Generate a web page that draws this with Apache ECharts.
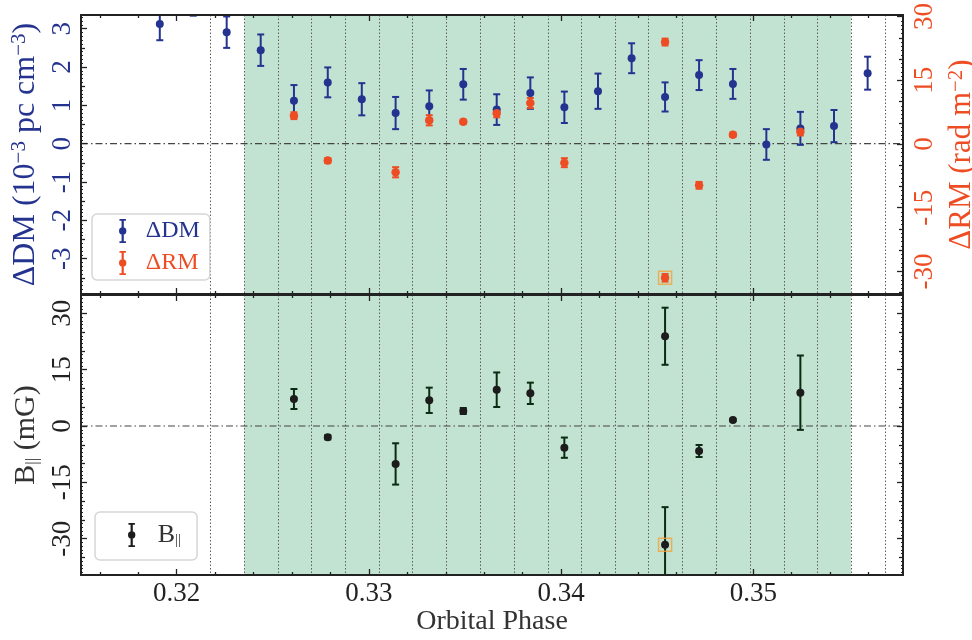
<!DOCTYPE html>
<html>
<head>
<meta charset="utf-8">
<script src="https://cdn.jsdelivr.net/npm/echarts@6/dist/echarts.min.js"></script>
<style>
html, body { margin: 0; padding: 0; background: #fff; }
#chart { width: 972px; height: 640px; }
</style>
</head>
<body>
<div id="chart"></div>
<script>
// orbital phase of each DM epoch
const dmPhase = [0.31912, 0.32086, 0.32260, 0.32437, 0.32610, 0.32786, 0.32963, 0.33139, 0.33314, 0.33491, 0.33665,
                 0.33840, 0.34017, 0.34192, 0.34367, 0.34541, 0.34718, 0.34894, 0.35068, 0.35245, 0.35420, 0.35595];
const dmVal = [3.12, 3.77, 2.91, 2.44, 1.12, 1.60, 1.16, 0.80, 0.98, 1.55, 0.89,
               1.32, 0.95, 1.37, 2.23, 1.22, 1.79, 1.56, -0.02, 0.40, 0.46, 1.84];
const dmErr = [0.42, 0.43, 0.41, 0.41, 0.41, 0.39, 0.42, 0.42, 0.41, 0.40, 0.40,
               0.41, 0.41, 0.46, 0.39, 0.38, 0.39, 0.39, 0.40, 0.43, 0.42, 0.43];

// RM and B_par share the same epochs
const rmPhase = [0.32610, 0.32786, 0.33139, 0.33314, 0.33491, 0.33665, 0.33840, 0.34017, 0.34541, 0.34541, 0.34718, 0.34894, 0.35245];
const rmVal = [6.66, -3.9, -6.66, 5.58, 5.25, 7.23, 9.65, -4.4, 24.0, -31.5, -9.73, 2.19, 2.9];
const rmErr = [0.8, 0.6, 1.2, 1.2, 0.5, 0.95, 1.18, 1.06, 0.8, 0.9, 0.8, 0.5, 0.9];
const bVal = [7.19, -3.0, -10.1, 6.84, 4.0, 9.66, 8.7, -5.77, 23.9, -31.6, -6.66, 1.6, 8.87];
const bErr = [2.66, 0.55, 5.5, 3.37, 0.8, 4.6, 2.84, 2.7, 7.6, 10.0, 1.6, 0.3, 9.9];

// flagged (boxed) solution
const flagPhase = [0.34541];
const flagRM = [-31.5];
const flagB = [-31.6];

// observation window edges and the shaded span
const windowEdges = [0.32173, 0.32352, 0.32526, 0.32700, 0.32876, 0.33051, 0.33226, 0.33401, 0.33578, 0.33753, 0.33930,
                     0.34104, 0.34280, 0.34454, 0.34631, 0.34806, 0.34983, 0.35160, 0.35333, 0.35508, 0.35685];
const shadeSpan = [0.32352, 0.35508];

// ticks
const xMajor = [0.32, 0.33, 0.34, 0.35];
const xMinor = [0.316, 0.318, 0.322, 0.324, 0.326, 0.328, 0.332, 0.334, 0.336, 0.338, 0.342, 0.344, 0.346, 0.348, 0.352, 0.354, 0.356];
const dmMajor = [-3, -2, -1, 0, 1, 2, 3];
const dmMinor = [-3.5, -2.5, -1.5, -0.5, 0.5, 1.5, 2.5];
const rmMajor = [-30, -15, 0, 15, 30];
const rmMinor = [-35, -25, -20, -10, -5, 5, 10, 20, 25];
const bMajor = [-30, -15, 0, 15, 30];
const bMinor = [-35, -25, -20, -10, -5, 5, 10, 20, 25];

// fine tick comb along the y axes
function comb(lo, hi, step) {
    const out = [];
    for (let k = Math.ceil(lo / step); k * step <= hi; k++) out.push(+(k * step).toFixed(4));
    return out;
}
const dmFine = comb(-3.9, 3.35, 0.1);
const rmFine = comb(-35, 30, 1);
const bFine = comb(-39, 34, 1);

const FONT = 'Liberation Serif';
const INK = '#222';
const DM_COLOR = '#24338f';
const RM_COLOR = '#ee4d24';
const B_COLOR = '#1c1c1c';
const B_BAR = '#0b2b12';
const ERR_ICON = 'path://M1.5,0H8.5V2H6.2V24H8.5V26H1.5V24H3.8V2H1.5ZM9,13A4,4,0,1,1,1,13A4,4,0,1,1,9,13Z';

const chart = echarts.init(document.getElementById('chart'));

function ticks(values, len, width) {
    return { show: true, inside: true, length: len, customValues: values, lineStyle: { color: INK, width: width || 1.3 } };
}
function frame(show) {
    return { show: show, onZero: false, lineStyle: { color: INK, width: 2 } };
}
function axis(o) {
    return Object.assign({
        type: 'value', z: 10,
        axisLine: frame(false),
        axisLabel: { show: false },
        splitLine: { show: false },
        minorSplitLine: { show: false }
    }, o);
}
function label(values, color, extra) {
    return Object.assign({ show: true, customValues: values, color: color, fontFamily: FONT, fontSize: 27 }, extra);
}

const xRange = { min: 0.31502, max: 0.35779 };
const xAxes = [];
[0, 1].forEach(g => {
    xAxes.push(axis(Object.assign({
        gridIndex: g, position: 'bottom', axisLine: frame(true), axisTick: ticks(xMajor, 6),
        axisLabel: g === 1 ? label(xMajor, INK, { margin: 5, formatter: v => v.toFixed(2) }) : { show: false },
        name: g === 1 ? 'Orbital Phase' : '', nameLocation: 'middle', nameGap: 33,
        nameTextStyle: { fontFamily: FONT, fontSize: 28, color: '#333' }
    }, xRange)));
    xAxes.push(axis(Object.assign({ gridIndex: g, position: 'bottom', axisTick: ticks(xMinor, 3) }, xRange)));
    xAxes.push(axis(Object.assign({ gridIndex: g, position: 'top', axisLine: frame(true), axisTick: ticks(xMajor, 6) }, xRange)));
    xAxes.push(axis(Object.assign({ gridIndex: g, position: 'top', axisTick: ticks(xMinor, 3) }, xRange)));
});

const dmRange = { min: -3.921, max: 3.358 };
const rmRange = { min: -35.32, max: 30.37 };
const bRange = { min: -39.67, max: 34.88 };

const yAxes = [
    axis(Object.assign({
        gridIndex: 0, position: 'left', axisLine: frame(true), axisTick: ticks(dmMajor, 6),
        axisLabel: label(dmMajor, DM_COLOR, { rotate: 90, margin: 5 }),
        name: '{a|ΔDM (10}{s|−3}{a| pc cm}{s|−3}{a|)}', nameLocation: 'middle', nameGap: 27, nameRotate: 90,
        nameTextStyle: { rich: {
            a: { fontFamily: FONT, fontSize: 32, color: DM_COLOR },
            s: { fontFamily: FONT, fontSize: 21, color: DM_COLOR, verticalAlign: 'top' } } }
    }, dmRange)),
    axis(Object.assign({ gridIndex: 0, position: 'left', axisTick: ticks(dmMinor, 4) }, dmRange)),
    axis(Object.assign({
        gridIndex: 0, position: 'right', axisLine: frame(true), axisTick: ticks(rmMajor, 6),
        axisLabel: label(rmMajor, RM_COLOR, { rotate: 90, margin: 8 }),
        name: '{a|ΔRM (rad m}{s|−2}{a|)}', nameLocation: 'middle', nameGap: 34, nameRotate: 90,
        nameTextStyle: { rich: {
            a: { fontFamily: FONT, fontSize: 31, color: RM_COLOR },
            s: { fontFamily: FONT, fontSize: 21, color: RM_COLOR, verticalAlign: 'top' } } }
    }, rmRange)),
    axis(Object.assign({ gridIndex: 0, position: 'right', axisTick: ticks(rmMinor, 4) }, rmRange)),
    axis(Object.assign({
        gridIndex: 1, position: 'left', axisLine: frame(true), axisTick: ticks(bMajor, 6),
        axisLabel: label(bMajor, INK, { rotate: 90, margin: 5 }),
        name: '{a|B}{s|||}{a| (mG)}', nameLocation: 'middle', nameGap: 29, nameRotate: 90,
        nameTextStyle: { rich: {
            a: { fontFamily: FONT, fontSize: 30, color: '#333' },
            s: { fontFamily: FONT, fontSize: 17, color: '#333', verticalAlign: 'bottom' } } }
    }, bRange)),
    axis(Object.assign({ gridIndex: 1, position: 'left', axisTick: ticks(bMinor, 4) }, bRange)),
    axis(Object.assign({ gridIndex: 1, position: 'right', axisLine: frame(true), axisTick: ticks(bMajor, 6) }, bRange)),
    axis(Object.assign({ gridIndex: 1, position: 'right', axisTick: ticks(bMinor, 4) }, bRange)),
    // fine combs
    axis(Object.assign({ gridIndex: 0, position: 'left', axisTick: ticks(dmFine, 2, 1) }, dmRange)),
    axis(Object.assign({ gridIndex: 0, position: 'right', axisTick: ticks(rmFine, 2, 1) }, rmRange)),
    axis(Object.assign({ gridIndex: 1, position: 'left', axisTick: ticks(bFine, 2, 1) }, bRange)),
    axis(Object.assign({ gridIndex: 1, position: 'right', axisTick: ticks(bFine, 2, 1) }, bRange))
];

function errorBars(color) {
    return function (params, api) {
        const x = api.value(0), y = api.value(1), e = api.value(2);
        const hi = api.coord([x, y + e]);
        const lo = api.coord([x, y - e]);
        const hw = 3.5;
        const style = { stroke: color, lineWidth: 2 };
        return {
            type: 'group',
            children: [
                { type: 'line', shape: { x1: hi[0], y1: hi[1], x2: lo[0], y2: lo[1] }, style: style },
                { type: 'line', shape: { x1: hi[0] - hw, y1: hi[1], x2: hi[0] + hw, y2: hi[1] }, style: style },
                { type: 'line', shape: { x1: lo[0] - hw, y1: lo[1], x2: lo[0] + hw, y2: lo[1] }, style: style }
            ]
        };
    };
}

// shaded span, window edges and zero line for one panel
function backdrop(xi, yi) {
    return [
        {
            type: 'custom', xAxisIndex: xi, yAxisIndex: yi, z: 1, silent: true, clip: true,
            data: [shadeSpan], encode: { x: [0, 1] },
            renderItem: (params, api) => {
                const cs = params.coordSys;
                const a = api.coord([api.value(0), 0])[0];
                const b = api.coord([api.value(1), 0])[0];
                return { type: 'rect', shape: { x: a, y: cs.y, width: b - a, height: cs.height }, style: { fill: '#c2e3d2' } };
            }
        },
        {
            type: 'custom', xAxisIndex: xi, yAxisIndex: yi, z: 2, silent: true, clip: true,
            data: windowEdges.map(v => [v]), encode: { x: 0 },
            renderItem: (params, api) => {
                const cs = params.coordSys;
                const x = Math.round(api.coord([api.value(0), 0])[0]) + 0.5;
                return { type: 'line', shape: { x1: x, y1: cs.y, x2: x, y2: cs.y + cs.height },
                         style: { stroke: '#5e5e5e', lineWidth: 1, lineDash: [1.5, 2] } };
            }
        },
        {
            type: 'custom', xAxisIndex: xi, yAxisIndex: yi, z: 2, silent: true, clip: true,
            data: [[0]], encode: { y: 0 },
            renderItem: (params, api) => {
                const cs = params.coordSys;
                const y = api.coord([xRange.min, api.value(0)])[1];
                return { type: 'line', shape: { x1: cs.x, y1: y, x2: cs.x + cs.width, y2: y },
                         style: { stroke: '#444', lineWidth: 1.2, lineDash: [7, 3, 1.5, 3] } };
            }
        }
    ];
}

const dmData = dmPhase.map((p, i) => [p, dmVal[i], dmErr[i]]);
const rmData = rmPhase.map((p, i) => [p, rmVal[i], rmErr[i]]);
const bData = rmPhase.map((p, i) => [p, bVal[i], bErr[i]]);

const legendBox = {
    orient: 'vertical', icon: ERR_ICON, itemWidth: 10, itemHeight: 24,
    backgroundColor: '#fff', borderColor: '#d6d6d6', borderWidth: 1.5, borderRadius: 5, selectedMode: false
};

const option = {
    animation: false,
    backgroundColor: '#fff',
    grid: [
        { left: 81, right: 69, top: 15, height: 279, outerBoundsMode: 'none', containLabel: false },
        { left: 81, right: 69, top: 295, height: 280, outerBoundsMode: 'none', containLabel: false }
    ],
    xAxis: xAxes,
    yAxis: yAxes,
    legend: [
        Object.assign({}, legendBox, {
            data: [{ name: 'ΔDM', textStyle: { color: DM_COLOR } }, { name: 'ΔRM', textStyle: { color: RM_COLOR } }],
            left: 92, top: 214, itemGap: 8, padding: [5, 10, 5, 27],
            textStyle: { fontFamily: FONT, fontSize: 24, padding: [0, 0, 0, 13] }
        }),
        Object.assign({}, legendBox, {
            data: [{ name: 'B‖' }],
            left: 95, top: 512, padding: [10, 16, 12, 33],
            formatter: () => '{m|B}{s|||}',
            textStyle: { padding: [0, 0, 0, 16], rich: {
                m: { fontFamily: FONT, fontSize: 26, color: '#333' },
                s: { fontFamily: FONT, fontSize: 15, color: '#333', verticalAlign: 'bottom' } } }
        })
    ],
    series: backdrop(0, 0).concat(backdrop(4, 4), [
        {
            name: 'ΔDM', type: 'scatter', xAxisIndex: 0, yAxisIndex: 0, z: 5,
            symbolSize: 8, itemStyle: { color: DM_COLOR, opacity: 1 }, data: dmData
        },
        {
            name: 'ΔDM', type: 'custom', xAxisIndex: 0, yAxisIndex: 0, z: 4, clip: true,
            itemStyle: { color: DM_COLOR }, encode: { x: 0, y: 1 },
            renderItem: errorBars(DM_COLOR), data: dmData
        },
        {
            name: 'ΔRM', type: 'scatter', xAxisIndex: 0, yAxisIndex: 2, z: 6,
            symbolSize: 8.5, itemStyle: { color: RM_COLOR, opacity: 1 }, data: rmData
        },
        {
            name: 'ΔRM', type: 'custom', xAxisIndex: 0, yAxisIndex: 2, z: 4, clip: true,
            itemStyle: { color: RM_COLOR }, encode: { x: 0, y: 1 },
            renderItem: errorBars(RM_COLOR), data: rmData
        },
        {
            type: 'scatter', xAxisIndex: 0, yAxisIndex: 2, z: 7, symbol: 'rect', symbolSize: 13,
            itemStyle: { color: 'rgba(0,0,0,0)', borderColor: '#f2a33a', borderWidth: 1.5 },
            data: flagPhase.map((p, i) => [p, flagRM[i]])
        },
        {
            name: 'B‖', type: 'scatter', xAxisIndex: 4, yAxisIndex: 4, z: 5,
            symbolSize: 8, itemStyle: { color: B_COLOR, opacity: 1 }, data: bData
        },
        {
            name: 'B‖', type: 'custom', xAxisIndex: 4, yAxisIndex: 4, z: 4, clip: true,
            itemStyle: { color: B_BAR }, encode: { x: 0, y: 1 },
            renderItem: errorBars(B_BAR), data: bData
        },
        {
            type: 'scatter', xAxisIndex: 4, yAxisIndex: 4, z: 7, symbol: 'rect', symbolSize: 13,
            itemStyle: { color: 'rgba(0,0,0,0)', borderColor: '#f2a33a', borderWidth: 1.5 },
            data: flagPhase.map((p, i) => [p, flagB[i]])
        }
    ])
};
chart.setOption(option);
</script>
</body>
</html>
